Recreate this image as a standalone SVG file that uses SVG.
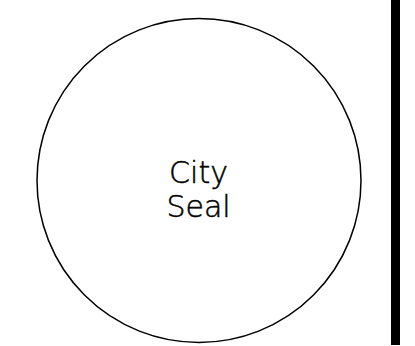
<svg xmlns="http://www.w3.org/2000/svg" width="415" height="346" viewBox="0 0 415 346">
<style>
.seal{fill:#fff;stroke:#000;stroke-width:1.5}
.lbl{font-family:"DejaVu Sans","Liberation Sans",sans-serif;font-size:30px;font-weight:200;fill:#000;stroke:#000;stroke-width:0.5;text-anchor:middle}
</style>
<rect width="415" height="346" fill="#fff"/>
<g id="city-seal">
<circle class="seal" cx="199" cy="180.5" r="162"/>
<text class="lbl" x="198.5" y="182.5">City</text>
<text class="lbl" x="198.5" y="217.3">Seal</text>
</g>
<g id="border">
<rect x="391" y="0" width="9" height="345" fill="#000"/>
</g>
</svg>
